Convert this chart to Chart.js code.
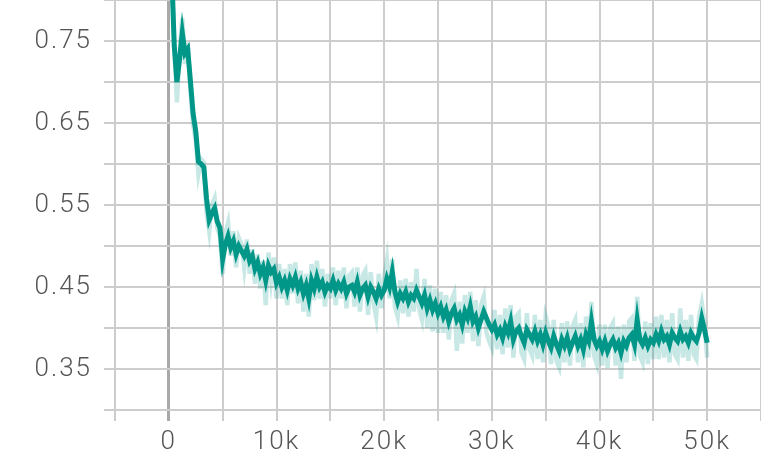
<!DOCTYPE html>
<html>
<head>
<meta charset="utf-8">
<script src="https://cdn.jsdelivr.net/npm/chart.js@4/dist/chart.umd.min.js"></script>
<style>
html,body{margin:0;padding:0;background:#fff;}
canvas{display:block;}
</style>
</head>
<body>
<canvas id="c" width="761" height="461"></canvas>
<script>
const steps = [
250,500,750,1000,1250,1500,1750,2000,2250,2500,2750,3000,3250,3500,3750,4000,4250,4500,4750,5000,
5250,5500,5750,6000,6250,6500,6750,7000,7250,7500,7750,8000,8250,8500,8750,9000,9250,9500,9750,10000,
10250,10500,10750,11000,11250,11500,11750,12000,12250,12500,12750,13000,13250,13500,13750,14000,14250,14500,14750,15000,
15250,15500,15750,16000,16250,16500,16750,17000,17250,17500,17750,18000,18250,18500,18750,19000,19250,19500,19750,20000,
20250,20500,20750,21000,21250,21500,21750,22000,22250,22500,22750,23000,23250,23500,23750,24000,24250,24500,24750,25000,
25250,25500,25750,26000,26250,26500,26750,27000,27250,27500,27750,28000,28250,28500,28750,29000,29250,29500,29750,30000,
30250,30500,30750,31000,31250,31500,31750,32000,32250,32500,32750,33000,33250,33500,33750,34000,34250,34500,34750,35000,
35250,35500,35750,36000,36250,36500,36750,37000,37250,37500,37750,38000,38250,38500,38750,39000,39250,39500,39750,40000,
40250,40500,40750,41000,41250,41500,41750,42000,42250,42500,42750,43000,43250,43500,43750,44000,44250,44500,44750,45000,
45250,45500,45750,46000,46250,46500,46750,47000,47250,47500,47750,48000,48250,48500,48750,49000,49250,49500,49750,50000
];

const smoothed = [
0.840,0.745,0.700,0.728,0.760,0.735,0.740,0.702,0.662,0.640,0.603,0.600,0.596,0.558,0.532,0.540,0.546,0.530,0.522,0.484,
0.502,0.512,0.498,0.506,0.490,0.500,0.494,0.488,0.496,0.482,0.488,0.472,0.480,0.466,0.474,0.458,0.476,0.468,0.472,0.455,
0.462,0.450,0.458,0.446,0.460,0.452,0.462,0.448,0.456,0.442,0.452,0.436,0.458,0.448,0.462,0.450,0.456,0.444,0.452,0.448,
0.458,0.446,0.454,0.448,0.456,0.442,0.450,0.452,0.444,0.456,0.440,0.448,0.452,0.438,0.450,0.444,0.436,0.448,0.440,0.446,
0.460,0.450,0.468,0.444,0.432,0.442,0.436,0.444,0.432,0.440,0.436,0.446,0.438,0.430,0.440,0.424,0.434,0.422,0.430,0.418,
0.426,0.414,0.422,0.408,0.418,0.424,0.410,0.416,0.404,0.420,0.412,0.426,0.408,0.414,0.400,0.410,0.420,0.412,0.404,0.398,
0.404,0.392,0.398,0.388,0.402,0.394,0.408,0.386,0.396,0.400,0.390,0.382,0.398,0.392,0.386,0.396,0.384,0.392,0.380,0.394,
0.384,0.376,0.390,0.380,0.372,0.386,0.378,0.388,0.374,0.382,0.390,0.378,0.386,0.374,0.392,0.384,0.408,0.386,0.378,0.384,
0.374,0.384,0.372,0.380,0.386,0.376,0.382,0.370,0.384,0.378,0.388,0.392,0.380,0.410,0.386,0.380,0.388,0.378,0.386,0.382,
0.392,0.384,0.396,0.386,0.390,0.380,0.394,0.388,0.384,0.396,0.386,0.390,0.382,0.394,0.388,0.384,0.394,0.412,0.398,0.382
];

const raw = [
0.860,0.750,0.675,0.735,0.778,0.722,0.748,0.692,0.648,0.630,0.588,0.606,0.602,0.542,0.518,0.550,0.558,0.522,0.512,0.466,
0.515,0.528,0.488,0.518,0.474,0.510,0.502,0.474,0.508,0.466,0.496,0.454,0.490,0.448,0.482,0.428,0.492,0.458,0.486,0.436,
0.478,0.436,0.472,0.428,0.478,0.442,0.480,0.430,0.470,0.420,0.466,0.414,0.478,0.434,0.482,0.436,0.472,0.426,0.466,0.436,
0.474,0.428,0.470,0.436,0.474,0.424,0.464,0.468,0.426,0.474,0.420,0.464,0.470,0.416,0.468,0.432,0.414,0.466,0.424,0.460,
0.482,0.436,0.484,0.426,0.414,0.458,0.418,0.460,0.414,0.456,0.420,0.472,0.424,0.411,0.460,0.400,0.452,0.396,0.448,0.394,
0.444,0.394,0.440,0.386,0.434,0.442,0.372,0.432,0.381,0.440,0.394,0.444,0.384,0.434,0.378,0.428,0.438,0.394,0.384,0.376,
0.422,0.374,0.416,0.368,0.424,0.376,0.428,0.364,0.414,0.418,0.370,0.362,0.418,0.374,0.366,0.416,0.362,0.410,0.358,0.414,
0.402,0.356,0.410,0.360,0.352,0.406,0.358,0.408,0.354,0.402,0.410,0.358,0.406,0.352,0.414,0.364,0.432,0.366,0.356,0.404,
0.354,0.404,0.351,0.400,0.406,0.354,0.402,0.338,0.404,0.358,0.408,0.412,0.360,0.438,0.366,0.358,0.408,0.356,0.406,0.362,
0.414,0.362,0.416,0.364,0.410,0.358,0.418,0.368,0.362,0.424,0.364,0.410,0.360,0.416,0.368,0.362,0.414,0.430,0.406,0.364
];

const xTickLabels = {"0":"0","10000":"10k","20000":"20k","30000":"30k","40000":"40k","50000":"50k"};
const yTickLabels = {"0.35":"0.35","0.45":"0.45","0.55":"0.55","0.65":"0.65","0.75":"0.75"};

const toXY = (vals) => vals.map((v, i) => ({x: steps[i], y: v}));

const spacing = {
  id: 'spacing',
  beforeLayout(chart){ chart.ctx.letterSpacing = '2px'; },
  beforeDraw(chart){ chart.ctx.letterSpacing = '2px'; }
};

const tickFont = {family: 'Roboto', weight: '300', size: 26};

new Chart(document.getElementById('c'), {
  type: 'line',
  data: {
    datasets: [
      {data: toXY(smoothed), borderColor: '#009688', borderWidth: 5, pointRadius: 0, tension: 0, order: 0, borderJoinStyle: 'miter'},
      {data: toXY(raw), borderColor: 'rgba(0,150,136,0.22)', borderWidth: 4.5, pointRadius: 0, tension: 0, order: 1, borderJoinStyle: 'miter'}
    ]
  },
  options: {
    responsive: false,
    animation: false,
    devicePixelRatio: 1,
    layout: {padding: 0},
    plugins: {legend: {display: false}, tooltip: {enabled: false}},
    scales: {
      x: {
        type: 'linear', min: -5000, max: 55000,
        afterFit(s){ s.height = 51; s.paddingLeft = 0; s.paddingRight = 0; },
        border: {display: false},
        grid: {
          color: (c) => c.tick && c.tick.value === 0 ? '#a9a9a9' : '#cdcdcd',
          lineWidth: (c) => c.tick && c.tick.value === 0 ? 3 : 2,
          tickLength: 11
        },
        ticks: {
          stepSize: 5000, autoSkip: false, maxRotation: 0, padding: 6,
          color: '#555', font: tickFont,
          callback: (v) => xTickLabels[String(Math.round(v))] || ''
        }
      },
      y: {
        min: 0.3, max: 0.8,
        afterFit(s){ s.width = 115; s.paddingTop = 0; s.paddingBottom = 0; },
        border: {display: false},
        grid: {color: '#cdcdcd', lineWidth: 2, tickLength: 11},
        ticks: {
          stepSize: 0.05, autoSkip: false, padding: 12,
          color: '#555', font: tickFont,
          callback: (v) => yTickLabels[(Math.round(v * 100) / 100).toFixed(2)] || ''
        }
      }
    }
  },
  plugins: [spacing]
});
</script>
</body>
</html>
